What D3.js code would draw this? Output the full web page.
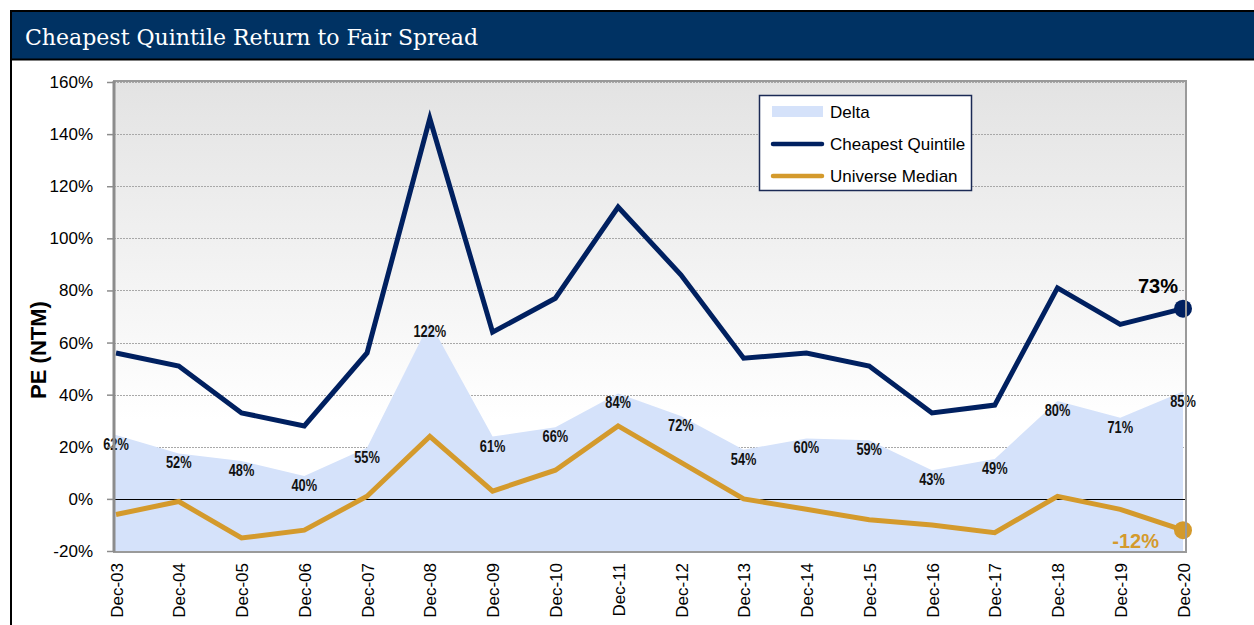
<!DOCTYPE html>
<html><head><meta charset="utf-8">
<script src="https://cdn.jsdelivr.net/npm/d3@7/dist/d3.min.js"></script>
<style>body{margin:0;background:#fff;overflow:hidden} svg{display:block}</style>
</head><body><svg id="c" width="1254" height="625"></svg>
<script>
const categories = ["Dec-03","Dec-04","Dec-05","Dec-06","Dec-07","Dec-08","Dec-09","Dec-10","Dec-11","Dec-12","Dec-13","Dec-14","Dec-15","Dec-16","Dec-17","Dec-18","Dec-19","Dec-20"];
const cheapestQuintile = [56,51,33,28,56,146,64,77,112,86,54,56,51,33,36,81,67,73];
const universeMedian = [-6,-1,-15,-12,1,24,3,11,28,14,0,-4,-8,-10,-13,1,-4,-12];
const delta = [62,52,48,40,55,122,61,66,84,72,54,60,59,43,49,80,71,85];
const yTicks = [-20,0,20,40,60,80,100,120,140,160];
const deltaAxisMax = 250;
const seriesNames = ["Delta","Cheapest Quintile","Universe Median"];
const title = "Cheapest Quintile Return to Fair Spread";
const yTitle = "PE (NTM)";

const NAVY = "#002060", GOLD = "#d49a2c", AREA = "#d5e2fa", HEAD = "#003263";
const SANS = "'Liberation Sans',Arial,sans-serif";
const svg = d3.select("#c");
const defs = svg.append("defs");
const grad = defs.append("linearGradient").attr("id","bg").attr("x1",0).attr("y1",0).attr("x2",0).attr("y2",1);
grad.append("stop").attr("offset","0%").attr("stop-color","#e3e3e3");
grad.append("stop").attr("offset","72%").attr("stop-color","#ffffff");
grad.append("stop").attr("offset","100%").attr("stop-color","#ffffff");

// frame + header
svg.append("rect").attr("x",10).attr("y",10).attr("width",1250).attr("height",50).attr("fill",HEAD);
svg.append("line").attr("x1",10).attr("x2",1254).attr("y1",11).attr("y2",11).attr("stroke","#000").attr("stroke-width",2);
svg.append("line").attr("x1",10).attr("x2",1254).attr("y1",59.5).attr("y2",59.5).attr("stroke","#000").attr("stroke-width",2);
svg.append("line").attr("x1",11).attr("x2",11).attr("y1",10).attr("y2",625).attr("stroke","#000").attr("stroke-width",2);
svg.append("text").attr("x",25).attr("y",45).attr("fill","#fff")
  .attr("font-family","'DejaVu Serif','Liberation Serif',serif").attr("font-size",23)
  .attr("textLength",453).attr("lengthAdjust","spacingAndGlyphs").text(title);

const L=114, R=1186, T=81, B=552;
const x = d3.scalePoint().domain(categories).range([116,1183]);
const y = d3.scaleLinear().domain([-20,160]).range([551,82]);
const y2 = d3.scaleLinear().domain([0,deltaAxisMax]).range([551,82]);

svg.append("rect").attr("x",L).attr("y",T).attr("width",R-L).attr("height",B-T).attr("fill","url(#bg)");

// gridlines
svg.append("g").selectAll("line").data(yTicks.filter(d=>d!==0 && d!==-20)).join("line")
  .attr("x1",L).attr("x2",R).attr("y1",d=>Math.round(y(d))+0.5).attr("y2",d=>Math.round(y(d))+0.5)
  .attr("stroke","#a8a8a8").attr("stroke-width",1).attr("stroke-dasharray","2,1");

// delta area
svg.append("path").datum(delta).attr("fill",AREA)
  .attr("d", d3.area().x((d,i)=>i===0?L+1:x(categories[i])).y0(y2(0)).y1(d=>y2(d)));

// zero line
svg.append("line").attr("x1",L).attr("x2",R).attr("y1",Math.round(y(0))+0.5).attr("y2",Math.round(y(0))+0.5)
  .attr("stroke","#000").attr("stroke-width",1);

// delta labels
svg.append("g").selectAll("text").data(delta).join("text")
  .attr("transform",(d,i)=>`translate(${x(categories[i])},${y2(d)+15}) scale(0.8,1)`)
  .attr("text-anchor","middle").attr("font-family",SANS)
  .attr("font-weight","bold").attr("font-size",16).attr("fill","#111").text(d=>d+"%");

// lines
const line = d3.line().x((d,i)=>x(categories[i])).y(d=>y(d));
svg.append("path").datum(universeMedian).attr("d",line).attr("fill","none").attr("stroke",GOLD).attr("stroke-width",5);
svg.append("path").datum(cheapestQuintile).attr("d",line).attr("fill","none").attr("stroke",NAVY).attr("stroke-width",5);
const last = categories.length-1;
svg.append("circle").attr("cx",x(categories[last])).attr("cy",y(cheapestQuintile[last])).attr("r",9).attr("fill",NAVY);
svg.append("circle").attr("cx",x(categories[last])).attr("cy",y(universeMedian[last])).attr("r",9).attr("fill",GOLD);
svg.append("text").attr("x",x(categories[last])-5).attr("y",y(cheapestQuintile[last])-16).attr("text-anchor","end")
  .attr("font-family",SANS).attr("font-weight","bold").attr("font-size",20).attr("fill","#000")
  .text(cheapestQuintile[last]+"%");
svg.append("text").attr("x",x(categories[last])-24).attr("y",y(universeMedian[last])+18).attr("text-anchor","end")
  .attr("font-family",SANS).attr("font-weight","bold").attr("font-size",20).attr("fill",GOLD)
  .text(universeMedian[last]+"%");

// plot border
svg.append("rect").attr("x",L).attr("y",T).attr("width",R-L).attr("height",B-T).attr("fill","none").attr("stroke","#9a9a9a").attr("stroke-width",2);
svg.append("line").attr("x1",L).attr("x2",L).attr("y1",T).attr("y2",B).attr("stroke","#8c8c8c").attr("stroke-width",3);

// y axis
const ya = svg.append("g").attr("transform",`translate(${L},0)`)
  .call(d3.axisLeft(y).tickValues(yTicks).tickFormat(d=>d+"%").tickSize(7).tickPadding(14));
ya.select(".domain").remove();
ya.selectAll(".tick line").attr("stroke","#8c8c8c").attr("stroke-width",1.5);
ya.selectAll(".tick text").attr("font-family",SANS).attr("font-size",17).attr("font-weight","normal").attr("fill","#000");

// x axis
const xa = svg.append("g").attr("transform",`translate(0,${B})`)
  .call(d3.axisBottom(x).tickSize(0));
xa.select(".domain").remove();
xa.selectAll(".tick text").attr("font-family",SANS).attr("font-size",17).attr("font-weight","normal").attr("fill","#000")
  .attr("text-anchor","end").attr("transform","rotate(-90)").attr("x",-11).attr("y",0).attr("dy","0.36em");

// y title
svg.append("text").attr("transform","translate(46,350) rotate(-90)").attr("text-anchor","middle")
  .attr("font-family",SANS).attr("font-weight","bold").attr("font-size",22).attr("fill","#000")
  .text(yTitle);

// legend
const lg = svg.append("g");
lg.append("rect").attr("x",759.5).attr("y",95.5).attr("width",212).attr("height",95).attr("fill","#fff").attr("stroke","#1b2a55").attr("stroke-width",1.5);
const rows = lg.selectAll("g").data(seriesNames).join("g").attr("transform",(d,i)=>`translate(772,${112+i*32})`);
rows.each(function(d,i){
  const g=d3.select(this);
  if(i===0) g.append("rect").attr("x",0).attr("y",-6).attr("width",51).attr("height",11).attr("fill",AREA);
  else g.append("line").attr("x1",1).attr("x2",50).attr("y1",0).attr("y2",0).attr("stroke",i===1?NAVY:GOLD).attr("stroke-width",4.5).attr("stroke-linecap","round");
  g.append("text").attr("x",58).attr("y",0).attr("dy","0.36em").attr("font-family",SANS).attr("font-size",17).attr("fill","#000").text(d);
});
</script></body></html>
